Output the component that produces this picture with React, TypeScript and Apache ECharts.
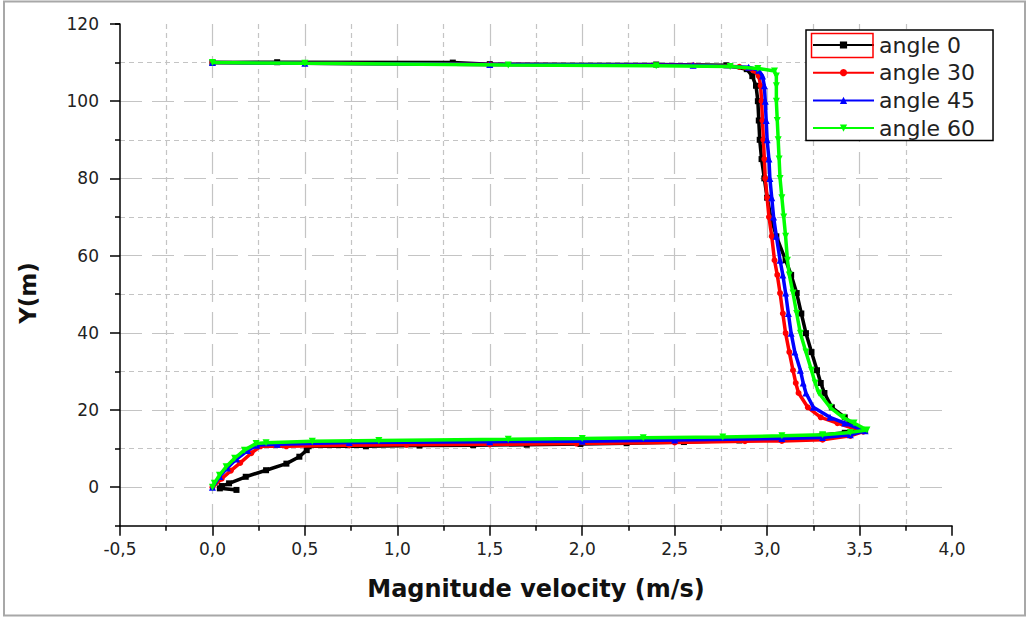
import React, { useEffect, useRef } from 'react';
import * as echarts from 'echarts';

const seriesNames = ['angle 0', 'angle 30', 'angle 45', 'angle 60'];
const seriesColors = ['#000000', '#ff0000', '#0000ff', '#00ff00'];
const seriesSymbols = ['rect', 'circle', 'triangle', 'triangle'];
const seriesSymbolRotate = [0, 0, 0, 180];
const seriesSymbolSize = [6, 6, 7, 7];

const xMin = -0.5;
const xMax = 4.0;
const xStep = 0.5;
const yMin = -10;
const yMax = 120;
const yLabelMin = 0;
const yStep = 20;

// [magnitude velocity (m/s), Y (m)]
const angle0: [number, number][] = [
  [0.13, -0.7], [0.04, -0.3], [0.05, 0.3], [0.09, 1.0], [0.18, 2.7], [0.29, 4.4], [0.4, 6.1],
  [0.47, 7.9], [0.51, 9.6], [0.52, 10.6], [0.83, 10.6], [1.12, 10.8], [1.41, 10.9], [1.7, 11.0],
  [1.99, 11.2], [2.24, 11.4], [2.55, 11.7], [2.85, 12.1], [3.1, 12.7], [3.3, 13.5], [3.42, 14.1],
  [3.53, 14.8], [3.45, 16.6], [3.42, 18.1], [3.35, 20.7], [3.31, 24.4], [3.29, 27], [3.27, 30.3],
  [3.24, 35], [3.21, 39.9], [3.185, 45], [3.16, 50.3], [3.13, 55], [3.1, 58.8], [3.05, 65],
  [3.02, 70], [3.0, 75], [2.985, 80], [2.97, 85], [2.96, 90], [2.955, 95], [2.95, 100],
  [2.94, 104], [2.92, 106.5], [2.89, 108.3], [2.78, 109.3], [2.4, 109.5], [1.5, 109.6],
  [1.3, 110.0], [0.35, 110.1], [0, 110],
];

const angle30: [number, number][] = [
  [0, 0], [0.05, 2.2], [0.1, 4.3], [0.15, 6.3], [0.21, 8.8], [0.26, 10.6], [0.4, 10.6],
  [0.74, 10.9], [1.05, 11.0], [1.5, 11.1], [1.97, 11.3], [2.5, 11.6], [2.88, 11.9], [3.08, 12.0],
  [3.3, 12.3], [3.45, 13.3], [3.52, 14.4], [3.38, 16.6], [3.29, 18.1], [3.22, 20.7], [3.17, 24.4],
  [3.155, 27], [3.14, 30.3], [3.12, 35], [3.1, 39.9], [3.085, 45], [3.07, 50.3], [3.055, 55],
  [3.04, 58.8], [3.025, 65], [3.01, 70], [3.0, 75], [2.99, 80], [2.985, 85], [2.98, 90],
  [2.975, 95], [2.97, 100], [2.965, 104], [2.955, 106.5], [2.925, 108], [2.85, 108.9],
  [2.6, 109.3], [1.5, 109.5], [0.5, 109.8], [0, 110],
];

const angle45: [number, number][] = [
  [0, 0], [0.04, 2.8], [0.08, 5.0], [0.13, 7.3], [0.19, 9.5], [0.24, 10.9], [0.35, 11.1],
  [0.74, 11.6], [1.5, 11.8], [2.0, 11.9], [2.5, 12.2], [3.08, 12.6], [3.3, 12.9], [3.45, 13.6],
  [3.53, 14.6], [3.42, 16.6], [3.34, 18.1], [3.25, 20.7], [3.21, 24.4], [3.195, 27], [3.18, 30.3],
  [3.15, 35], [3.13, 39.9], [3.115, 45], [3.1, 50.3], [3.085, 55], [3.07, 58.8], [3.05, 65],
  [3.035, 70], [3.025, 75], [3.015, 80], [3.01, 85], [3.0, 90], [2.995, 95], [2.99, 100],
  [2.985, 104], [2.975, 106.5], [2.955, 108], [2.9, 108.8], [2.6, 109.3], [1.5, 109.5],
  [0.5, 109.8], [0, 110],
];

const angle60: [number, number][] = [
  [0, 0], [0.01, 1.0], [0.038, 3.1], [0.074, 5.3], [0.12, 7.5], [0.173, 9.6], [0.236, 11.3],
  [0.29, 11.5], [0.54, 11.9], [0.9, 12.1], [1.6, 12.4], [2.0, 12.6], [2.33, 12.8], [2.76, 13.0],
  [3.08, 13.3], [3.3, 13.6], [3.45, 14.2], [3.54, 14.8], [3.47, 16.6], [3.41, 18.1], [3.34, 20.7],
  [3.28, 24.4], [3.26, 27], [3.24, 30.3], [3.21, 35], [3.18, 39.9], [3.16, 45], [3.14, 50.3],
  [3.12, 55], [3.11, 58.8], [3.1, 65], [3.09, 70], [3.08, 75], [3.07, 80], [3.065, 85],
  [3.06, 90], [3.055, 95], [3.05, 100], [3.05, 104], [3.05, 106.5], [3.04, 107.8], [2.95, 108.5],
  [2.8, 109.0], [2.4, 109.2], [1.6, 109.4], [0.5, 109.8], [0, 110],
];

const seriesData = [angle0, angle30, angle45, angle60];

const xTitle = 'Magnitude velocity (m/s)';
const yTitle = 'Y(m)';

export default function App() {
  const ref = useRef<HTMLDivElement>(null);

  useEffect(() => {
    if (!ref.current) return;
    const chart = echarts.init(ref.current, null, { renderer: 'svg' });
    const font = 'DejaVu Sans';
    const gridColor = '#c4c4c4';
    const unit = 3.86; // px per Y unit
    const axisLineStyle = { color: '#000', width: 1.5 };
    const majorGrid = { color: gridColor, width: 1.2, type: [22, 10] };
    const minorGrid = { color: gridColor, width: 1.2, type: [5, 4] };
    const fmtX = (v: number) => v.toFixed(1).replace('.', ',');

    chart.setOption({
      animation: false,
      backgroundColor: '#ffffff',
      grid: [
        { left: 120, top: 24, width: 832, height: (yMax - yMin) * unit, outerBoundsMode: 'none' },
        { left: 120, top: 24, width: 832, height: (yMax - yLabelMin) * unit, outerBoundsMode: 'none' },
      ],
      xAxis: [
        {
          gridIndex: 0,
          type: 'value',
          min: xMin,
          max: xMax,
          interval: xStep,
          name: xTitle,
          nameLocation: 'middle',
          nameGap: 51,
          nameTextStyle: { fontFamily: font, fontSize: 24, fontWeight: 'bold', color: '#111' },
          axisLine: { show: true, onZero: false, lineStyle: axisLineStyle },
          axisTick: { show: true, length: 10, lineStyle: axisLineStyle },
          minorTick: { show: true, splitNumber: 2, length: 5, lineStyle: axisLineStyle },
          axisLabel: { show: true, margin: 15, fontFamily: font, fontSize: 17, color: '#222', formatter: fmtX },
          splitLine: { show: true, showMinLine: false, showMaxLine: false, lineStyle: majorGrid },
          minorSplitLine: { show: true, lineStyle: minorGrid },
        },
        { gridIndex: 1, type: 'value', min: xMin, max: xMax, interval: xStep, show: false },
      ],
      yAxis: [
        {
          gridIndex: 0,
          type: 'value',
          min: yMin,
          max: yMax,
          interval: yStep,
          axisLine: { show: true, onZero: false, lineStyle: axisLineStyle },
          axisTick: { show: true, length: 5, lineStyle: axisLineStyle },
          axisLabel: { show: false },
          splitLine: { show: true, showMinLine: false, showMaxLine: false, lineStyle: minorGrid },
        },
        {
          gridIndex: 1,
          type: 'value',
          min: yLabelMin,
          max: yMax,
          interval: yStep,
          axisLine: { show: false, onZero: false },
          axisTick: { show: true, length: 10, lineStyle: axisLineStyle },
          axisLabel: { show: true, margin: 21, fontFamily: font, fontSize: 17, color: '#222' },
          splitLine: { show: true, showMinLine: true, showMaxLine: false, lineStyle: majorGrid },
        },
      ],
      legend: {
        data: seriesNames,
        orient: 'vertical',
        left: 806,
        top: 30,
        padding: [4, 18, 1.5, 6],
        itemWidth: 61,
        itemHeight: 9,
        itemGap: 5.7,
        borderColor: '#000',
        borderWidth: 1.5,
        backgroundColor: '#fff',
        selectedMode: false,
        textStyle: { fontFamily: font, fontSize: 22, color: '#222', lineHeight: 22 },
        z: 10,
      },
      graphic: [
        {
          type: 'rect',
          z: 100,
          shape: { x: 4, y: 1.5, width: 1021, height: 614 },
          style: { fill: 'none', stroke: '#a8a8a8', lineWidth: 2 },
          silent: true,
        },
        {
          type: 'rect',
          z: 100,
          shape: { x: 811.5, y: 33.5, width: 61.5, height: 24 },
          style: { fill: 'none', stroke: '#ff0000', lineWidth: 1.5 },
          silent: true,
        },
        {
          type: 'text',
          z: 100,
          x: 28,
          y: 293,
          rotation: Math.PI / 2,
          style: {
            text: yTitle,
            fontFamily: font,
            fontSize: 23,
            fontWeight: 'bold',
            fill: '#111',
            align: 'center',
            verticalAlign: 'middle',
          },
          silent: true,
        },
      ],
      series: seriesNames.map((name, i) => ({
        name,
        type: 'line',
        xAxisIndex: 0,
        yAxisIndex: 0,
        data: seriesData[i],
        symbol: seriesSymbols[i],
        symbolSize: seriesSymbolSize[i],
        symbolRotate: seriesSymbolRotate[i],
        showSymbol: true,
        showAllSymbol: true,
        clip: false,
        lineStyle: { color: seriesColors[i], width: 3.5 },
        itemStyle: { color: seriesColors[i] },
        z: 3 + i,
      })),
    });

    return () => chart.dispose();
  }, []);

  return (
    <div
      ref={ref}
      style={{ position: 'fixed', left: 0, top: 0, width: 1028, height: 618, background: '#fff' }}
    />
  );
}
